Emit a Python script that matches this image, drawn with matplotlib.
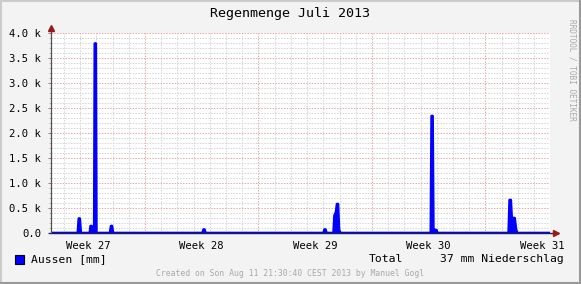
import matplotlib
matplotlib.use('Agg')
import matplotlib.pyplot as plt
import matplotlib.patches as patches
from matplotlib.lines import Line2D
from matplotlib.ticker import FixedLocator, FuncFormatter

# time in days since Mon 1 July 2013 00:00, rain value (raw units)
day_times = [1.201,
             2.854, 2.916, 2.978, 3.040,
             3.595, 3.644, 3.706, 3.755,
             3.866, 3.903, 3.965, 4.002,
             4.841, 4.903, 4.964, 5.026,
             10.547, 10.609, 10.671, 10.732,
             18.012, 18.073, 18.135, 18.197,
             18.629, 18.690, 18.783, 18.844, 18.906, 18.968, 19.060,
             24.631, 24.680, 24.742, 24.791,
             24.865, 24.976, 25.038,
             29.431, 29.492, 29.566, 29.640, 29.702, 29.801, 29.887, 29.949,
             31.984]
rain_values = [0,
               0, 290, 290, 0,
               0, 140, 140, 0,
               0, 3790, 3790, 0,
               0, 140, 140, 0,
               0, 70, 70, 0,
               0, 70, 70, 0,
               0, 350, 420, 580, 580, 60, 0,
               0, 2340, 2340, 0,
               60, 60, 0,
               0, 660, 660, 200, 300, 300, 80, 0,
               0]

weeks = [27, 28, 29, 30, 31]
y_major = [0, 500, 1000, 1500, 2000, 2500, 3000, 3500, 4000]
title = 'Regenmenge Juli 2013'
legend_label = 'Aussen [mm]'
total_label = 'Total'
total_value = '37 mm Niederschlag'
footer = 'Created on Son Aug 11 21:30:40 CEST 2013 by Manuel Gogl'
watermark = 'RRDTOOL / TOBI OETIKER'

W, H = 581, 284
MONO = 'DejaVu Sans Mono'
BACK = '#f3f3f3'
MINOR = '#d4d4d4'
MAJOR = '#e6a6a6'
ARROW = '#9a1a1a'

fig = plt.figure(figsize=(W / 100, H / 100), dpi=100, facecolor=BACK)
ax = fig.add_axes([51 / W, 51 / H, 499 / W, 200 / H])
ax.set_facecolor('white')
ax.set_xlim(day_times[0], day_times[-1])
ax.set_ylim(0, 4000)

# grid: minor every day / 100, major every week / 500
ax.xaxis.set_major_locator(FixedLocator([7, 14, 21, 28]))
ax.xaxis.set_minor_locator(FixedLocator(list(range(2, 32))))
ax.yaxis.set_major_locator(FixedLocator(y_major))
ax.yaxis.set_minor_locator(FixedLocator(list(range(0, 4001, 100))))
ax.grid(which='minor', color=MINOR, linestyle=(0, (1.4, 1.4)), linewidth=0.72)
ax.grid(which='major', color=MAJOR, linestyle=(0, (1.4, 1.4)), linewidth=0.72)
ax.set_axisbelow(True)

ax.tick_params(axis='x', which='both', length=0, labelbottom=False)
ax.tick_params(axis='y', which='major', length=2, width=0.72, color='#888888',
               direction='out', pad=5, labelsize=7.6)
ax.tick_params(axis='y', which='minor', length=1.4, width=0.72, color='#bbbbbb',
               direction='out')
ax.yaxis.set_major_formatter(FuncFormatter(
    lambda v, p: '0.0' if v == 0 else f'{v / 1000:.1f} k'))
for lab in ax.get_yticklabels():
    lab.set_family(MONO)

for s in ax.spines.values():
    s.set_visible(False)

# data
ax.fill_between(day_times, rain_values, color='#0000ff', linewidth=0, zorder=3)
ax.plot(day_times, rain_values, color='#0000ff', linewidth=1.9, zorder=4)

# axis lines and arrows
ax.plot([-0.004, 1.01], [0, 0], transform=ax.transAxes, color='#1c1c5c',
        linewidth=1.0, clip_on=False, zorder=5)
ax.plot([0, 0], [0, 1.02], transform=ax.transAxes, color='#505050',
        linewidth=0.9, clip_on=False, zorder=5)
ax.plot([1.012], [0], transform=ax.transAxes, marker='>', markersize=4.5,
        color=ARROW, clip_on=False, zorder=6)
ax.plot([0], [1.025], transform=ax.transAxes, marker='^', markersize=4.5,
        color=ARROW, clip_on=False, zorder=6)

# week labels, centred in each week
for wk in weeks:
    xc = (wk - 27) * 7 + 3.5
    ax.text(xc, -0.04, f'Week {wk}', transform=ax.get_xaxis_transform(),
            ha='center', va='top', family=MONO, fontsize=7.6)

# title, legend, footer
fig.text(290 / W, 1 - 13 / H, title, ha='center', va='center', family=MONO,
         fontsize=9.6)
fig.patches.append(patches.Rectangle((15 / W, 1 - 264 / H), 9 / W, 9 / H,
                                     transform=fig.transFigure,
                                     facecolor='#0000ff', edgecolor='black',
                                     linewidth=0.8))
fig.text(31 / W, 1 - 259 / H, legend_label, ha='left', va='center',
         family=MONO, fontsize=8.2)
fig.text(369 / W, 1 - 259 / H, total_label, ha='left', va='center',
         family=MONO, fontsize=8.2)
fig.text(440 / W, 1 - 259 / H, total_value, ha='left', va='center',
         family=MONO, fontsize=8.2)
fig.text(290 / W, 1 - 273 / H, footer, ha='center', va='center', family=MONO,
         fontsize=5.9, color='#aaaaaa')
fig.text(572 / W, 1 - 19 / H, watermark, ha='center', va='top', rotation=270,
         family=MONO, fontsize=5.6, color='#aaaaaa')

# 3d-ish frame
fig.add_artist(Line2D([0, 1], [1 - 1 / H, 1 - 1 / H], transform=fig.transFigure,
                      color='#cbcbcb', linewidth=1.5))
fig.add_artist(Line2D([1 / W, 1 / W], [0, 1], transform=fig.transFigure,
                      color='#cbcbcb', linewidth=1.5))
fig.add_artist(Line2D([0, 1], [1 / H, 1 / H], transform=fig.transFigure,
                      color='#999999', linewidth=1.5))
fig.add_artist(Line2D([1 - 1 / W, 1 - 1 / W], [0, 1], transform=fig.transFigure,
                      color='#999999', linewidth=1.5))

fig.savefig('out.png', dpi=100, facecolor=BACK)
plt.close(fig)
